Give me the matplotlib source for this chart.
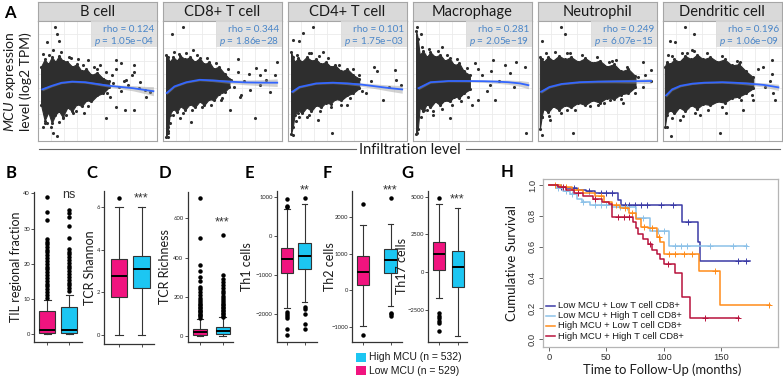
import matplotlib.pyplot as plt
import numpy as np
from matplotlib.patches import Rectangle

plt.rcParams['font.family'] = ['Lato', 'DejaVu Sans']
plt.rcParams['mathtext.fontset'] = 'custom'
plt.rcParams['mathtext.rm'] = 'Lato'
plt.rcParams['mathtext.it'] = 'Lato:italic'

W, H = 783, 378

# ---------------- panel A data (panel units 0-1) ----------------
cell_types = ['B cell', 'CD8+ T cell', 'CD4+ T cell', 'Macrophage', 'Neutrophil', 'Dendritic cell']
rho_text = ['0.124', '0.344', '0.101', '0.281', '0.249', '0.196']
p_text = ['1.05e\u221204', '1.86e\u221228', '1.75e\u221203', '2.05e\u221219', '6.07e\u221215', '1.06e\u221209']

# dense core of each point cloud: x, lower edge, upper edge
cloud_x = [
    [0.03, 0.06, 0.09, 0.12, 0.15, 0.18, 0.21, 0.25, 0.29, 0.33, 0.37, 0.41, 0.45, 0.5, 0.55, 0.6],
    [0.03, 0.045, 0.06, 0.09, 0.12, 0.15, 0.19, 0.23, 0.27, 0.31, 0.35, 0.39, 0.43, 0.47, 0.52, 0.56],
    [0.03, 0.045, 0.06, 0.09, 0.12, 0.16, 0.2, 0.24, 0.28, 0.32, 0.36, 0.4, 0.45, 0.5, 0.55, 0.6],
    [0.03, 0.045, 0.06, 0.09, 0.12, 0.15, 0.19, 0.23, 0.27, 0.31, 0.35, 0.39, 0.43, 0.48],
    [0.02, 0.035, 0.05, 0.09, 0.13, 0.18, 0.23, 0.28, 0.34, 0.4, 0.46, 0.52, 0.58, 0.64, 0.7, 0.76, 0.82],
    [0.02, 0.035, 0.06, 0.1, 0.14, 0.19, 0.24, 0.29, 0.34, 0.4, 0.46, 0.52, 0.58, 0.64, 0.7, 0.76],
]
cloud_lo = [
    [0.3, 0.17, 0.24, 0.15, 0.22, 0.25, 0.2, 0.28, 0.25, 0.31, 0.29, 0.34, 0.33, 0.38, 0.4, 0.45],
    [0.03, 0.08, 0.22, 0.27, 0.24, 0.29, 0.26, 0.31, 0.28, 0.33, 0.3, 0.35, 0.34, 0.39, 0.41, 0.45],
    [0.06, 0.12, 0.22, 0.26, 0.23, 0.28, 0.25, 0.3, 0.28, 0.32, 0.31, 0.35, 0.34, 0.38, 0.4, 0.44],
    [0.06, 0.1, 0.28, 0.25, 0.31, 0.28, 0.33, 0.3, 0.34, 0.33, 0.37, 0.36, 0.4, 0.43],
    [0.1, 0.2, 0.27, 0.24, 0.29, 0.26, 0.3, 0.28, 0.32, 0.3, 0.34, 0.32, 0.36, 0.35, 0.39, 0.4, 0.45],
    [0.12, 0.22, 0.26, 0.23, 0.28, 0.25, 0.3, 0.27, 0.31, 0.3, 0.33, 0.32, 0.36, 0.37, 0.4, 0.44],
]
cloud_hi = [
    [0.62, 0.68, 0.64, 0.7, 0.66, 0.71, 0.67, 0.66, 0.62, 0.64, 0.58, 0.6, 0.55, 0.57, 0.52, 0.5],
    [0.72, 0.7, 0.66, 0.7, 0.67, 0.71, 0.68, 0.7, 0.66, 0.69, 0.64, 0.66, 0.6, 0.62, 0.56, 0.52],
    [0.74, 0.7, 0.66, 0.69, 0.66, 0.7, 0.67, 0.68, 0.64, 0.66, 0.62, 0.63, 0.58, 0.6, 0.55, 0.52],
    [0.92, 0.85, 0.72, 0.75, 0.7, 0.74, 0.7, 0.72, 0.67, 0.69, 0.63, 0.65, 0.58, 0.55],
    [0.7, 0.68, 0.66, 0.7, 0.67, 0.71, 0.68, 0.7, 0.66, 0.69, 0.65, 0.67, 0.62, 0.64, 0.58, 0.6, 0.54],
    [0.62, 0.66, 0.64, 0.68, 0.66, 0.71, 0.68, 0.72, 0.68, 0.7, 0.66, 0.68, 0.63, 0.64, 0.58, 0.53],
]
# scattered points outside the dense core
out_x = [
    [0.146, 0.165, 0.179, 0.076, 0.043, 0.126, 0.279, 0.424, 0.66, 0.701, 0.81, 0.81, 0.79, 0.52, 0.576,
     0.85, 0.9, 0.94, 0.632, 0.743, 0.41, 0.604, 0.66, 0.736, 0.81, 0.57, 0.387, 0.132, 0.165, 0.049,
     0.076, 0.215, 0.299, 0.465, 0.91, 0.55, 0.62, 0.68, 0.72, 0.58, 0.66, 0.7, 0.76, 0.86, 0.5,
     0.1, 0.2, 0.26, 0.34, 0.06, 0.11, 0.18, 0.24, 0.32, 0.42, 0.47, 0.38],
    [0.168, 0.076, 0.14, 0.257, 0.632, 0.96, 0.78, 0.854, 0.813, 0.94, 0.632, 0.576, 0.73, 0.9, 0.493,
     0.563, 0.77, 0.238, 0.146, 0.049, 0.049, 0.049, 0.049, 0.646, 0.45, 0.87, 0.6, 0.68, 0.72, 0.82, 0.55, 0.66,
     0.1, 0.2, 0.29, 0.37, 0.45, 0.09, 0.17, 0.25, 0.33, 0.41, 0.06, 0.5],
    [0.215, 0.126, 0.049, 0.099, 0.376, 0.049, 0.09, 0.16, 0.257, 0.896, 0.91, 0.66, 0.8, 0.55, 0.6,
     0.7, 0.75, 0.85, 0.95, 0.62, 0.72, 0.5, 0.3, 0.2,
     0.08, 0.18, 0.26, 0.34, 0.43, 0.1, 0.18, 0.27, 0.36, 0.45, 0.07, 0.52],
    [0.04, 0.068, 0.04, 0.243, 0.09, 0.938, 0.77, 0.673, 0.813, 0.688, 0.549, 0.313, 0.118, 0.174, 0.04,
     0.946, 0.04, 0.465, 0.646, 0.521, 0.868, 0.58, 0.62, 0.72, 0.55, 0.85, 0.5, 0.66,
     0.08, 0.14, 0.21, 0.29, 0.37, 0.1, 0.17, 0.25, 0.33, 0.41, 0.07, 0.46],
    [0.193, 0.229, 0.035, 0.271, 0.471, 0.66, 0.882, 0.951, 0.84, 0.882, 0.715, 0.507, 0.299, 0.035, 0.035,
     0.243, 0.104, 0.604, 0.75, 0.9, 0.95, 0.82, 0.7, 0.6,
     0.07, 0.15, 0.25, 0.37, 0.5, 0.62, 0.1, 0.2, 0.31, 0.44, 0.56, 0.7],
    [0.188, 0.265, 0.063, 0.104, 0.049, 0.243, 0.201, 0.918, 0.918, 0.84, 0.938, 0.924, 0.479, 0.071, 0.035,
     0.146, 0.535, 0.674, 0.757, 0.313, 0.8, 0.86, 0.9, 0.75, 0.65,
     0.08, 0.16, 0.26, 0.37, 0.5, 0.62, 0.08, 0.17, 0.27, 0.38, 0.5, 0.66],
]
out_y = [
    [0.953, 0.889, 0.836, 0.828, 0.722, 0.758, 0.689, 0.675, 0.675, 0.653, 0.633, 0.578, 0.55, 0.633, 0.578,
     0.439, 0.425, 0.411, 0.48, 0.508, 0.342, 0.369, 0.286, 0.258, 0.258, 0.189, 0.231, 0.064, 0.042, 0.119,
     0.147, 0.189, 0.231, 0.508, 0.369, 0.52, 0.55, 0.45, 0.5, 0.4, 0.6, 0.42, 0.47, 0.49, 0.6,
     0.72, 0.74, 0.7, 0.68, 0.15, 0.12, 0.16, 0.22, 0.25, 0.29, 0.62, 0.63],
    [0.953, 0.889, 0.725, 0.758, 0.681, 0.661, 0.606, 0.592, 0.55, 0.55, 0.578, 0.508, 0.425, 0.411, 0.342,
     0.258, 0.189, 0.161, 0.189, 0.064, 0.036, 0.119, 0.203, 0.369, 0.55, 0.508, 0.45, 0.5, 0.56, 0.47, 0.6, 0.38,
     0.74, 0.73, 0.72, 0.69, 0.65, 0.22, 0.23, 0.26, 0.28, 0.3, 0.15, 0.36],
    [0.953, 0.897, 0.842, 0.836, 0.064, 0.05, 0.231, 0.203, 0.175, 0.592, 0.508, 0.397, 0.342, 0.6, 0.55,
     0.5, 0.58, 0.45, 0.47, 0.42, 0.62, 0.3, 0.74, 0.73,
     0.72, 0.73, 0.71, 0.69, 0.63, 0.2, 0.22, 0.25, 0.28, 0.3, 0.17, 0.36],
    [0.953, 0.889, 0.814, 0.786, 0.689, 0.619, 0.633, 0.675, 0.564, 0.342, 0.342, 0.189, 0.258, 0.217, 0.064,
     0.064, 0.203, 0.369, 0.467, 0.647, 0.661, 0.55, 0.42, 0.5, 0.6, 0.45, 0.3, 0.58,
     0.78, 0.77, 0.75, 0.72, 0.68, 0.26, 0.25, 0.27, 0.3, 0.33, 0.2, 0.61],
    [0.953, 0.892, 0.836, 0.731, 0.647, 0.675, 0.661, 0.592, 0.536, 0.453, 0.314, 0.3, 0.064, 0.05, 0.203,
     0.258, 0.175, 0.342, 0.62, 0.55, 0.5, 0.4, 0.38, 0.66,
     0.73, 0.74, 0.73, 0.72, 0.7, 0.67, 0.21, 0.23, 0.26, 0.29, 0.32, 0.35],
    [0.953, 0.889, 0.833, 0.828, 0.717, 0.758, 0.731, 0.675, 0.558, 0.619, 0.342, 0.397, 0.064, 0.042, 0.119,
     0.175, 0.231, 0.258, 0.342, 0.217, 0.6, 0.45, 0.5, 0.38, 0.66,
     0.71, 0.73, 0.75, 0.73, 0.71, 0.67, 0.19, 0.21, 0.23, 0.26, 0.28, 0.34],
]
# smoothing fit and its confidence half-width
fit_x = [
    [0.04, 0.12, 0.2, 0.29, 0.4, 0.5, 0.6, 0.7, 0.8, 0.9, 0.97],
    [0.035, 0.1, 0.2, 0.31, 0.42, 0.55, 0.7, 0.85, 0.96],
    [0.04, 0.1, 0.24, 0.38, 0.5, 0.62, 0.74, 0.86, 0.96],
    [0.05, 0.15, 0.3, 0.45, 0.6, 0.7, 0.8, 0.9, 0.97],
    [0.03, 0.1, 0.2, 0.35, 0.5, 0.65, 0.8, 0.95],
    [0.03, 0.08, 0.15, 0.25, 0.35, 0.5, 0.6, 0.7, 0.85, 0.97],
]
fit_y = [
    [0.43, 0.46, 0.485, 0.495, 0.49, 0.475, 0.46, 0.45, 0.44, 0.425, 0.415],
    [0.40, 0.455, 0.49, 0.51, 0.505, 0.495, 0.488, 0.486, 0.486],
    [0.41, 0.45, 0.48, 0.486, 0.48, 0.47, 0.455, 0.44, 0.43],
    [0.44, 0.49, 0.5, 0.5, 0.498, 0.495, 0.49, 0.48, 0.465],
    [0.41, 0.45, 0.475, 0.49, 0.495, 0.497, 0.498, 0.5],
    [0.38, 0.43, 0.46, 0.478, 0.486, 0.49, 0.486, 0.48, 0.467, 0.447],
]
fit_se = [
    [0.012, 0.008, 0.007, 0.007, 0.008, 0.01, 0.012, 0.016, 0.022, 0.03, 0.038],
    [0.012, 0.008, 0.007, 0.008, 0.01, 0.014, 0.02, 0.026, 0.032],
    [0.012, 0.008, 0.007, 0.008, 0.01, 0.014, 0.02, 0.026, 0.032],
    [0.012, 0.008, 0.007, 0.008, 0.01, 0.014, 0.018, 0.024, 0.03],
    [0.012, 0.008, 0.007, 0.008, 0.01, 0.012, 0.016, 0.022],
    [0.014, 0.01, 0.008, 0.007, 0.007, 0.008, 0.01, 0.012, 0.018, 0.026],
]

# ---------------- panels B-G data ----------------
box_letters = ['B', 'C', 'D', 'E', 'F', 'G']
box_ylabels = ['TIL regional fraction', 'TCR Shannon', 'TCR Richness', 'Th1 cells', 'Th2 cells', 'Th17 cells']
box_stars = ['ns', '***', '***', '**', '***', '***']
box_yticks = [[0, 10, 20, 30, 40], [0, 2, 4, 6], [0, 200, 400, 600],
              [-2000, -1000, 0, 1000], [-1000, 0, 1000, 2000], [-2500, 0, 2500, 5000]]
box_ylims = [(-2.1, 40.4), (-0.43, 6.75), (-29, 736), (-2703, 1169), (-1412, 2731), (-4597, 5397)]

low_q1 = [0.4, 1.79, 5, -930, 146, 152]
low_med = [1.3, 2.76, 18, -582, 512, 1210]
low_q3 = [6.6, 3.57, 38, -290, 926, 2024]
low_whislo = [0, 0, 0, -1846, -972, -1720]
low_whishi = [9.6, 6, 88, 710, 1790, 4497]
low_fliers = [
    [38.9, 34.8, 32.4, 27.0, 26.3, 25.6, 24.8, 24.0, 23.3, 22.5, 21.6, 20.8, 20.0, 19.2, 18.4, 17.6,
     16.8, 16.0, 15.2, 14.4, 13.6, 12.8, 12.0, 11.2, 10.4],
    [6.43],
    [705, 500, 360, 330, 300, 280, 250, 240, 225, 210, 195, 185, 175, 165, 158, 150, 142, 135, 128,
     120, 113, 106, 100, 94],
    [949, 777, 744, -1940, -2000, -2043, -2085, -2367, -2538],
    [2363, -1228],
    [4900, -2720, -2870, -3050, -3200, -3375, -3860],
]
high_q1 = [0.4, 2.21, 10, -830, 467, -950]
high_med = [1.2, 3.08, 25, -500, 832, 330]
high_q3 = [7.8, 3.71, 45, -160, 1135, 1430]
high_whislo = [0, 0, 0, -1680, -423, -4190]
high_whishi = [11.3, 6, 95, 820, 1820, 4233]
high_fliers = [
    [35.3, 34.3, 33.4, 30.7, 27.4, 24.1, 23.4, 22.7, 21.9, 21.1, 20.3, 19.5, 18.7, 17.9, 17.1, 16.3,
     15.5, 14.7, 13.9, 13.1, 12.3],
    [],
    [515, 310, 290, 275, 260, 245, 230, 218, 205, 195, 185, 175, 165, 157, 149, 141, 133, 126, 118,
     111, 104, 98],
    [982, -1812, -1872, -1983, -2256, -2367],
    [2544, -615, -659, -706],
    [],
]
legend_labels = ['High MCU (n = 532)', 'Low MCU (n = 529)']

# ---------------- panel H data ----------------
km_labels = ['Low MCU + Low T cell CD8+', 'Low MCU + High T cell CD8+',
             'High MCU + Low T cell CD8+', 'High MCU + High T cell CD8+']
km_colors = ['#3a3aa6', '#8cc1e8', '#ff8c1a', '#b8123c']
km_t = [
    [0, 8, 15, 24, 32, 40, 60, 63, 116, 130, 132],
    [0, 6, 12, 18, 24, 29, 36, 55, 76, 88, 105],
    [0, 10, 20, 30, 40, 48, 55, 62, 70, 76, 80, 86, 94, 97, 100, 131, 149],
    [0, 8, 15, 22, 30, 38, 46, 52, 55, 73, 76, 78, 82, 86, 90, 94, 97, 100, 110, 116, 123],
]
km_s = [
    [1.0, 0.99, 0.98, 0.97, 0.96, 0.95, 0.90, 0.87, 0.758, 0.633, 0.51],
    [1.0, 0.98, 0.96, 0.94, 0.91, 0.89, 0.87, 0.86, 0.785, 0.70, 0.605],
    [1.0, 0.99, 0.97, 0.95, 0.93, 0.89, 0.87, 0.85, 0.82, 0.78, 0.73, 0.72, 0.66, 0.63, 0.555, 0.445, 0.225],
    [1.0, 0.99, 0.97, 0.95, 0.93, 0.91, 0.89, 0.88, 0.79, 0.76, 0.72, 0.68, 0.65, 0.62, 0.58, 0.55, 0.52,
     0.49, 0.43, 0.275, 0.14],
]
km_end = [175, 173, 193, 166]
km_censor = [
    [10, 22, 35, 45, 50, 55, 66, 70, 75, 80, 85, 98, 108, 121, 165, 172],
    [8, 15, 20, 30, 40, 45, 50, 62, 68, 82, 95, 100, 110, 115, 120, 140, 160, 172],
    [5, 15, 25, 45, 58, 66, 72, 83, 90, 96, 105, 110, 118, 125, 145, 192],
    [12, 25, 40, 60, 65, 70, 88, 104, 136, 165],
]

PINK = '#f0147f'
CYAN = '#1cc6f2'
RHO_BLUE = '#4a86c8'
DOT = '#2e2e2e'


def rect(l, t, r, b):
    return [l / W, 1 - b / H, (r - l) / W, (b - t) / H]


def fx(x):
    return x / W


def fy(y):
    return 1 - y / H


fig = plt.figure(figsize=(W / 100, H / 100), dpi=100)

# ================= A =================
fig.text(fx(10), fy(13), 'A', fontsize=12, fontweight='bold', ha='center', va='center')
fig.text(fx(17), fy(82), '$\\mathit{MCU}$ expression\nlevel (log2 TPM)', rotation=90,
         ha='center', va='center', multialignment='center', fontsize=10, color='#1a1a1a')
grid_pos = [k / 9 for k in range(1, 9)]
for i, name in enumerate(cell_types):
    left = 37.5 + 125 * i
    right = left + 119.5
    sx = fig.add_axes(rect(left, 2, right, 21))
    sx.set_facecolor('#d9d9d9')
    sx.set_xticks([])
    sx.set_yticks([])
    for sp in sx.spines.values():
        sp.set_color('#a6a6a6')
        sp.set_linewidth(0.8)
    sx.text(0.5, 0.47, name, ha='center', va='center', fontsize=10.5, color='#1a1a1a',
            transform=sx.transAxes)

    ax = fig.add_axes(rect(left, 21, right, 141))
    ax.set_xlim(0, 1)
    ax.set_ylim(0, 1)
    ax.set_xticks(grid_pos)
    ax.set_yticks(grid_pos)
    ax.tick_params(length=0, labelbottom=False, labelleft=False)
    ax.grid(color='#ebebeb', lw=0.6)
    ax.set_axisbelow(True)
    for sp in ax.spines.values():
        sp.set_color('#a6a6a6')
        sp.set_linewidth(0.8)
    ax.fill_between(cloud_x[i], cloud_lo[i], cloud_hi[i], color=DOT, lw=0.8,
                    edgecolor=DOT, zorder=2)
    ax.scatter(cloud_x[i], cloud_hi[i], s=5, color=DOT, linewidths=0, zorder=2)
    ax.scatter(cloud_x[i], cloud_lo[i], s=5, color=DOT, linewidths=0, zorder=2)
    ax.scatter(out_x[i], out_y[i], s=5, color=DOT, linewidths=0, zorder=2)
    fxv = np.array(fit_x[i])
    fyv = np.array(fit_y[i])
    sev = np.array(fit_se[i])
    ax.fill_between(fxv, fyv - sev, fyv + sev, color='#9a9a9a', alpha=0.45, lw=0, zorder=3)
    ax.plot(fxv, fyv, color='#3366ff', lw=1.3, zorder=4)
    ax.add_patch(Rectangle((0.45, 0.785), 0.55, 0.215, transform=ax.transAxes,
                           facecolor='#dcdcdc', alpha=0.85, lw=0, zorder=5))
    ax.text(0.975, 0.93, 'rho = ' + rho_text[i], ha='right', va='center', fontsize=7.2,
            color=RHO_BLUE, transform=ax.transAxes, zorder=6)
    ax.text(0.975, 0.825, '$p$ = ' + p_text[i], ha='right', va='center', fontsize=7.2,
            color=RHO_BLUE, transform=ax.transAxes, zorder=6)

fig.add_artist(plt.Line2D([fx(39), fx(356)], [fy(149.3), fy(149.3)], color='#666666', lw=0.8))
fig.add_artist(plt.Line2D([fx(466), fx(780)], [fy(149.3), fy(149.3)], color='#666666', lw=0.8))
fig.text(fx(410), fy(150), 'Infiltration level', ha='center', va='center', fontsize=10.5,
         color='#1a1a1a')

# ================= B-G =================
box_axes_px = [(34.3, 192, 81.7, 341.7), (104.3, 190.7, 154, 344.3), (187.7, 191.7, 233, 341.7),
               (276.7, 190.7, 316.5, 341.7), (352.3, 190.7, 401.7, 341.7), (428.3, 190.7, 467, 341.7)]
box_centers_px = [(47.2, 69.2), (118.8, 141.5), (200, 222.5), (287, 304.5), (363, 390.5), (439, 457.5)]
box_width_px = [16, 16.5, 14, 12.5, 12.5, 12]
letter_px = [(11.5, 173), (92, 173), (165, 173), (249, 173), (327, 173), (407, 173)]
ylabel_x = [15.5, 90, 165, 247, 330, 402]
star_px = [(69.2, 195), (141.5, 198), (222.5, 222), (304.5, 190), (390.5, 190), (457.5, 199)]

for i in range(6):
    l, t, r, b = box_axes_px[i]
    c1, c2 = box_centers_px[i]
    scale = c2 - c1
    ax = fig.add_axes(rect(l, t, r, b))
    ax.set_xlim(1 - (c1 - l) / scale, 1 + (r - c1) / scale)
    ax.set_ylim(*box_ylims[i])
    stats = [
        dict(med=low_med[i], q1=low_q1[i], q3=low_q3[i], whislo=low_whislo[i],
             whishi=low_whishi[i], fliers=low_fliers[i]),
        dict(med=high_med[i], q1=high_q1[i], q3=high_q3[i], whislo=high_whislo[i],
             whishi=high_whishi[i], fliers=high_fliers[i]),
    ]
    w = box_width_px[i] / scale
    bp = ax.bxp(stats, positions=[1, 2], widths=w, capwidths=w * 0.45, patch_artist=True,
                boxprops=dict(edgecolor='#333333', lw=0.8),
                medianprops=dict(color='black', lw=1.4),
                whiskerprops=dict(color='#333333', lw=0.8),
                capprops=dict(color='#333333', lw=0.8),
                flierprops=dict(marker='o', markerfacecolor='black', markeredgecolor='black',
                                markersize=2.2, lw=0))
    bp['boxes'][0].set_facecolor(PINK)
    bp['boxes'][1].set_facecolor(CYAN)
    for side in ['top', 'right']:
        ax.spines[side].set_visible(False)
    for side in ['left', 'bottom']:
        ax.spines[side].set_color('#333333')
        ax.spines[side].set_linewidth(0.9)
    ax.set_yticks(box_yticks[i])
    ax.set_xticks([1, 2])
    ax.set_xticklabels([])
    ax.tick_params(axis='both', length=2, width=0.6, color='#333333', labelsize=4.2,
                   labelcolor='#222222', pad=1)
    lx, ly = letter_px[i]
    fig.text(fx(lx), fy(ly), box_letters[i], fontsize=12, fontweight='bold', ha='center', va='center')
    fig.text(fx(ylabel_x[i]), fy((t + b) / 2), box_ylabels[i], rotation=90, ha='center',
             va='center', fontsize=9, color='#1a1a1a')
    sxp, syp = star_px[i]
    fig.text(fx(sxp), fy(syp), box_stars[i], ha='center', va='center', fontsize=9,
             family=['Liberation Sans', 'DejaVu Sans'], color='#333333')

# legend for B-G
fig.add_artist(Rectangle((fx(356), fy(361.7)), 10 / W, 9 / H, transform=fig.transFigure,
                         facecolor=CYAN, edgecolor='none'))
fig.add_artist(Rectangle((fx(356), fy(375)), 10 / W, 9 / H, transform=fig.transFigure,
                         facecolor=PINK, edgecolor='none'))
fig.text(fx(369.3), fy(357.2), legend_labels[0], ha='left', va='center', fontsize=7.5,
         family=['Liberation Sans', 'DejaVu Sans'], color='#1a1a1a')
fig.text(fx(369.3), fy(370.5), legend_labels[1], ha='left', va='center', fontsize=7.5,
         family=['Liberation Sans', 'DejaVu Sans'], color='#1a1a1a')

# ================= H =================
fig.text(fx(507), fy(172), 'H', fontsize=12, fontweight='bold', ha='center', va='center')
axh = fig.add_axes(rect(543.3, 179.3, 777.7, 346.7))
axh.set_xlim(-5, 199.4)
axh.set_ylim(-0.048, 1.037)
for sp in axh.spines.values():
    sp.set_color('#b5b5b5')
    sp.set_linewidth(0.9)
for k in range(4):
    t = km_t[k] + [km_end[k]]
    s = km_s[k] + [km_s[k][-1]]
    axh.step(t, s, where='post', color=km_colors[k], lw=1.1)
    idx = np.searchsorted(km_t[k], km_censor[k], side='right') - 1
    axh.plot(km_censor[k], np.array(km_s[k])[idx], '+', color=km_colors[k], ms=4, mew=0.7)
axh.set_xticks([0, 50, 100, 150])
axh.set_yticks([0.0, 0.2, 0.4, 0.6, 0.8, 1.0])
axh.set_yticklabels(['0.0', '0.2', '0.4', '0.6', '0.8', '1.0'], rotation=90, va='center')
axh.tick_params(axis='both', direction='out', length=3, width=0.7, color='#666666',
                labelsize=6.8, labelcolor='#333333', pad=1.5)
for lab in axh.get_xticklabels() + axh.get_yticklabels():
    lab.set_family(['Liberation Sans', 'DejaVu Sans'])
fig.text(fx(511.7), fy(263), 'Cumulative Survival', rotation=90, ha='center', va='center',
         fontsize=9.5, color='#1a1a1a')
fig.text(fx(661.7), fy(370), 'Time to Follow-Up (months)', ha='center', va='center',
         fontsize=9.3, color='#1a1a1a')
leg_y = [305.7, 315.7, 325.7, 336.2]
for k in range(4):
    fig.add_artist(plt.Line2D([fx(546), fx(555)], [fy(leg_y[k]), fy(leg_y[k])],
                              color=km_colors[k], lw=1.1))
    fig.text(fx(557.5), fy(leg_y[k]), km_labels[k], ha='left', va='center', fontsize=6.8,
             family=['Liberation Sans', 'DejaVu Sans'], color='#1a1a1a')

fig.savefig('out.png', dpi=100)
